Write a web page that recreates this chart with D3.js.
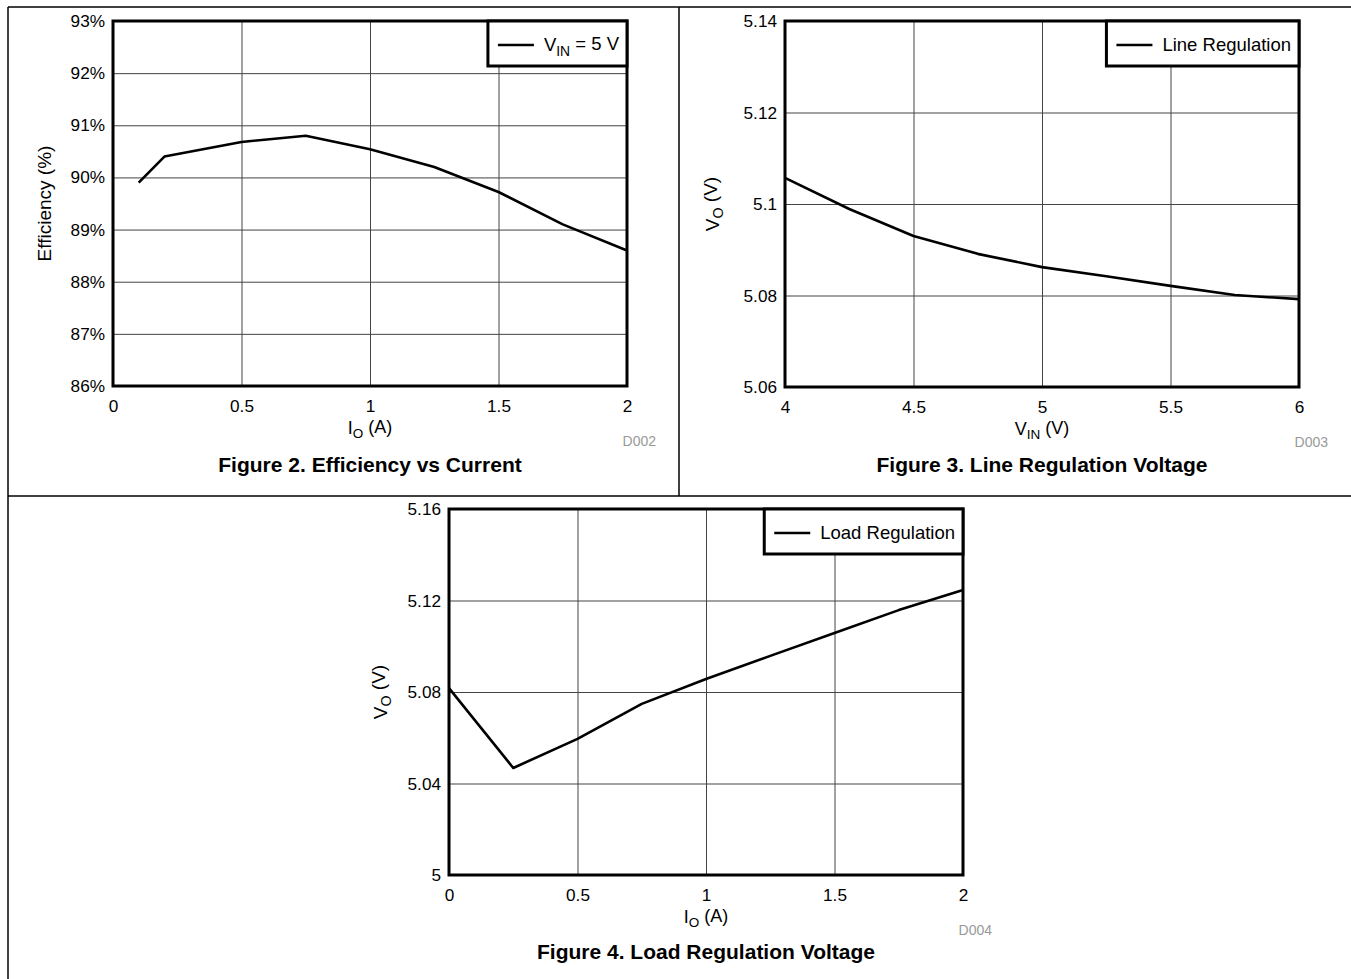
<!DOCTYPE html>
<html>
<head>
<meta charset="utf-8">
<script src="https://cdn.jsdelivr.net/npm/d3@7"></script>
<style>
  body { margin: 0; background: #fff; }
  svg { display: block; font-family: "Liberation Sans", Arial, sans-serif; }
</style>
</head>
<body>
<svg id="chart" width="1351" height="979"></svg>
<script>
// Figure 2 - efficiency vs output current
const effCurrent = [0.1, 0.2, 0.5, 0.75, 1.0, 1.25, 1.5, 1.75, 2.0];
const effValues = [89.9, 90.4, 90.68, 90.8, 90.54, 90.2, 89.72, 89.1, 88.6];
const effXTicks = [0, 0.5, 1, 1.5, 2];
const effYTicks = [86, 87, 88, 89, 90, 91, 92, 93];

// Figure 3 - line regulation
const lineVin = [4, 4.25, 4.5, 4.75, 5, 5.25, 5.5, 5.75, 6];
const lineVout = [5.1057, 5.0989, 5.093, 5.0891, 5.0862, 5.0842, 5.0821, 5.0801, 5.0792];
const lineXTicks = [4, 4.5, 5, 5.5, 6];
const lineYTicks = [5.06, 5.08, 5.1, 5.12, 5.14];

// Figure 4 - load regulation
const loadCurrent = [0, 0.25, 0.5, 0.75, 1.0, 1.25, 1.5, 1.75, 2.0];
const loadVout = [5.0817, 5.0468, 5.0595, 5.0748, 5.0857, 5.0958, 5.1058, 5.1158, 5.1246];
const loadXTicks = [0, 0.5, 1, 1.5, 2];
const loadYTicks = [5, 5.04, 5.08, 5.12, 5.16];

const svg = d3.select('#chart');
const num = d => String(+d.toFixed(3));
const FONT = '"Liberation Sans", Arial, sans-serif';

// page frame
const frame = svg.append('g').attr('stroke', '#000').attr('stroke-width', 1.5);
frame.append('line').attr('x1', 8).attr('y1', 7).attr('x2', 1351).attr('y2', 7);
frame.append('line').attr('x1', 8).attr('y1', 7).attr('x2', 8).attr('y2', 979);
frame.append('line').attr('x1', 8).attr('y1', 496).attr('x2', 1351).attr('y2', 496);
frame.append('line').attr('x1', 679).attr('y1', 7).attr('x2', 679).attr('y2', 496);

// text with a subscript part: parts = [[text, isSub], ...]
function richText(sel, parts) {
  parts.forEach(([t, sub]) => {
    const ts = sel.append('tspan').text(t);
    if (sub) ts.attr('font-size', '0.75em').attr('dy', '0.3em');
    else if (sel.selectAll('tspan').size() > 1) ts.attr('dy', '-0.3em');
  });
  return sel;
}

function panel(o) {
  const w = o.right - o.left, h = o.bottom - o.top;
  const g = svg.append('g').attr('transform', `translate(${o.left},${o.top})`);
  const x = d3.scaleLinear().domain(o.xDomain).range([0, w]);
  const y = d3.scaleLinear().domain(o.yDomain).range([h, 0]);

  const xAxis = g.append('g').attr('transform', `translate(0,${h})`)
    .call(d3.axisBottom(x).tickValues(o.xTicks).tickSize(-h).tickPadding(14).tickFormat(num));
  const yAxis = g.append('g')
    .call(d3.axisLeft(y).tickValues(o.yTicks).tickSize(-w).tickPadding(8).tickFormat(o.yFormat || num));
  [xAxis, yAxis].forEach(a => {
    a.select('.domain').remove();
    a.selectAll('line').attr('stroke', '#444').attr('stroke-width', 1);
    a.selectAll('text').attr('font-size', 17.2).attr('fill', '#000').attr('font-family', FONT);
  });

  g.append('path').datum(o.xs.map((d, i) => [d, o.ys[i]]))
    .attr('fill', 'none').attr('stroke', '#000').attr('stroke-width', 2.6)
    .attr('stroke-linejoin', 'round')
    .attr('d', d3.line().x(d => x(d[0])).y(d => y(d[1])));

  g.append('rect').attr('width', w).attr('height', h)
    .attr('fill', 'none').attr('stroke', '#000').attr('stroke-width', 3);

  // legend box in the top right corner
  const lg = g.append('g');
  const lt = richText(lg.append('text').attr('font-size', 18.5).attr('dy', '0.35em'), o.legend);
  const tw = lt.node().getComputedTextLength();
  const bw = 10 + 36 + 10 + tw + 8, bh = 45;
  lg.attr('transform', `translate(${w - bw},0)`);
  lg.insert('rect', 'text').attr('width', bw).attr('height', bh)
    .attr('fill', '#fff').attr('stroke', '#000').attr('stroke-width', 3);
  lg.append('line').attr('x1', 10).attr('x2', 46).attr('y1', 24).attr('y2', 24)
    .attr('stroke', '#000').attr('stroke-width', 2.6);
  lt.attr('x', 56).attr('y', 24);

  richText(g.append('text').attr('x', w / 2).attr('y', h + 42).attr('dy', '0.35em')
    .attr('text-anchor', 'middle').attr('font-size', 18), o.xTitle);
  richText(g.append('text').attr('transform', `translate(${o.yTitleX},${h / 2}) rotate(-90)`)
    .attr('dy', '0.35em').attr('text-anchor', 'middle').attr('font-size', 19), o.yTitle);

  g.append('text').attr('x', w + 29).attr('y', h + 55).attr('dy', '0.35em')
    .attr('text-anchor', 'end').attr('font-size', 14).attr('fill', '#999').text(o.code);
  g.append('text').attr('x', w / 2).attr('y', h + o.capGap).attr('dy', '0.35em')
    .attr('text-anchor', 'middle').attr('font-size', 21).attr('font-weight', 'bold').text(o.caption);
}

panel({
  left: 113, right: 627, top: 21, bottom: 386,
  xDomain: [0, 2], yDomain: [86, 93], xTicks: effXTicks, yTicks: effYTicks,
  yFormat: d => d + '%',
  xs: effCurrent, ys: effValues,
  legend: [['V'], ['IN', true], [' = 5 V']],
  xTitle: [['I'], ['O', true], [' (A)']],
  yTitle: [['Efficiency (%)']], yTitleX: -69,
  code: 'D002', caption: 'Figure 2. Efficiency vs Current', capGap: 79
});

panel({
  left: 785, right: 1299, top: 21, bottom: 387,
  xDomain: [4, 6], yDomain: [5.06, 5.14], xTicks: lineXTicks, yTicks: lineYTicks,
  xs: lineVin, ys: lineVout,
  legend: [['Line Regulation']],
  xTitle: [['V'], ['IN', true], [' (V)']],
  yTitle: [['V'], ['O', true], [' (V)']], yTitleX: -73,
  code: 'D003', caption: 'Figure 3. Line Regulation Voltage', capGap: 78
});

panel({
  left: 449, right: 963, top: 509, bottom: 875,
  xDomain: [0, 2], yDomain: [5, 5.16], xTicks: loadXTicks, yTicks: loadYTicks,
  xs: loadCurrent, ys: loadVout,
  legend: [['Load Regulation']],
  xTitle: [['I'], ['O', true], [' (A)']],
  yTitle: [['V'], ['O', true], [' (V)']], yTitleX: -69,
  code: 'D004', caption: 'Figure 4. Load Regulation Voltage', capGap: 77
});
</script>
</body>
</html>
